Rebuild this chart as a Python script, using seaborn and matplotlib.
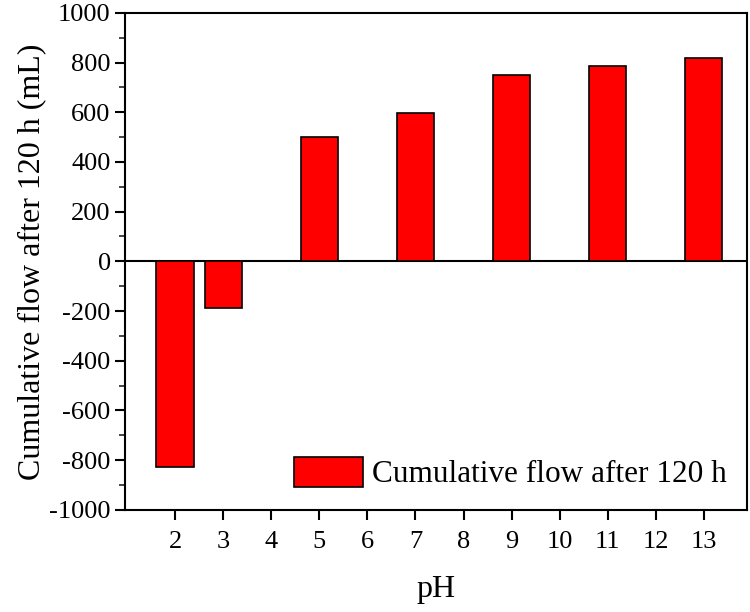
import matplotlib
matplotlib.use('Agg')
import matplotlib.pyplot as plt
import seaborn as sns
from matplotlib.ticker import MultipleLocator

# data
ph = [2, 3, 5, 7, 9, 11, 13]
flow = [-828, -188, 502, 597, 750, 786, 818]
xticks = list(range(2, 14))

sns.set_style('ticks')
plt.rcParams['font.family'] = ['Liberation Serif', 'DejaVu Serif']
plt.rcParams['axes.linewidth'] = 1.5
plt.rcParams['axes.unicode_minus'] = False
plt.rcParams['text.color'] = 'black'
plt.rcParams['axes.labelcolor'] = 'black'

fig = plt.figure(figsize=(7.5, 6.12), dpi=100)
ax = fig.add_axes([0.167, 0.167, 0.829, 0.812])

sns.barplot(x=ph, y=flow, native_scale=True, color='red', saturation=1,
            edgecolor='black', linewidth=1.2, width=0.78,
            label='Cumulative flow after 120 h', ax=ax)
ax.axhline(0, color='black', lw=1.5, zorder=0)

ax.set_xlim(0.96, 13.9)
ax.set_ylim(-1000, 1000)
ax.set_xticks(xticks)
ax.set_xticklabels([str(t) for t in xticks])
ax.yaxis.set_major_locator(MultipleLocator(200))
ax.yaxis.set_minor_locator(MultipleLocator(100))
ax.tick_params(axis='both', which='major', labelsize=19, direction='out',
               length=7, width=1.5, colors='black')
ax.tick_params(axis='y', which='minor', direction='out', length=4, width=1.2)
ax.tick_params(axis='x', pad=8)
for s in ax.spines.values():
    s.set_visible(True)
    s.set_color('black')

ax.set_xlabel('pH', fontsize=23, labelpad=16)
ax.set_ylabel('Cumulative flow after 120 h (mL)', fontsize=23, labelpad=2)

ax.legend(loc='lower right', frameon=False, fontsize=22.5, handlelength=2.2,
          handleheight=1.1, borderaxespad=0.25, handletextpad=0.3)

fig.savefig('out.png', dpi=100)
